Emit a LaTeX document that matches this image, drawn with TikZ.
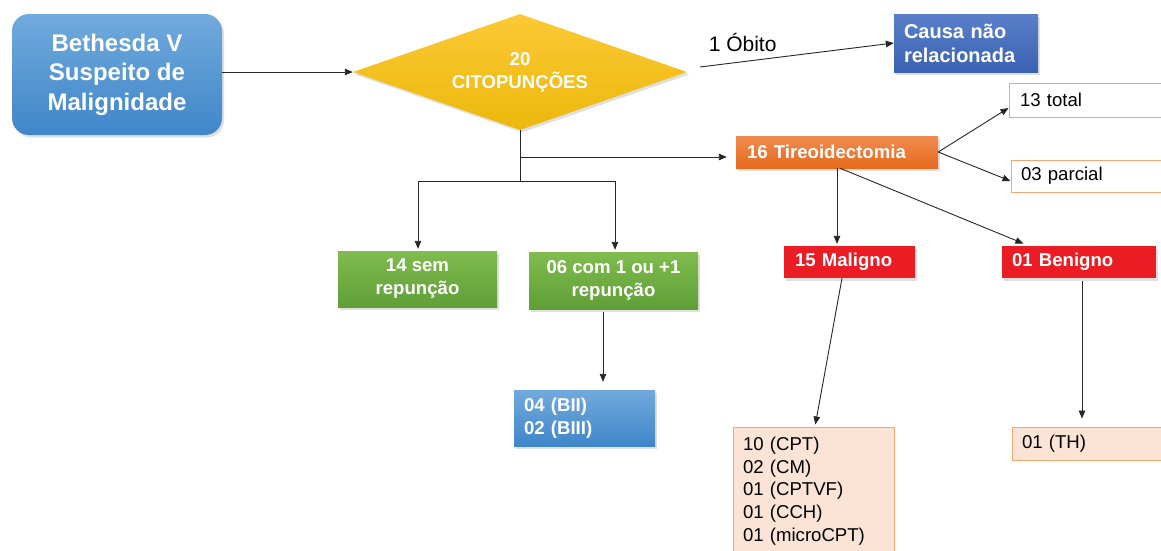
\documentclass[tikz,border=0pt]{standalone}
\usepackage{fontspec}
\setmainfont{Liberation Sans}
\usetikzlibrary{shapes.geometric,arrows.meta,shadows}

\definecolor{bluetop}{HTML}{71AADD}
\definecolor{bluebot}{HTML}{3F86C9}
\definecolor{navytop}{HTML}{5A80CB}
\definecolor{navybot}{HTML}{3A62B0}
\definecolor{goldtop}{HTML}{FBC935}
\definecolor{goldbot}{HTML}{ECB80C}
\definecolor{orangetop}{HTML}{F18C4F}
\definecolor{orangebot}{HTML}{E56A1D}
\definecolor{greentop}{HTML}{80BC4E}
\definecolor{greenbot}{HTML}{5F9F37}
\definecolor{alertred}{HTML}{EC1C24}
\definecolor{peach}{HTML}{FBE4D5}
\definecolor{peachline}{HTML}{F4A66E}

\tikzset{
  softshadow/.style={drop shadow={shadow xshift=2pt, shadow yshift=-2.5pt, opacity=0.25}},
  boldtxt/.style={font=\bfseries\fontsize{18.6}{23}\selectfont, text=white},
  plaintxt/.style={font=\fontsize{18.6}{22.8}\selectfont, text=black},
  flowbox/.style={rectangle, inner ysep=0pt, align=left},
  arr/.style={-{Triangle[length=8pt,width=6.5pt]}, line width=0.9pt, draw=black!85},
  ln/.style={line width=0.9pt, draw=black!85},
}

\begin{document}
\begin{tikzpicture}[x=1pt, y=-1pt]
\clip (0,0) rectangle (1161,550);
\fill[white] (0,0) rectangle (1161,550);

% start box and decision
\node[rectangle, rounded corners=17pt, minimum width=210pt, minimum height=121pt,
      inner sep=0pt, top color=bluetop, bottom color=bluebot, softshadow,
      align=center, text=white, font=\bfseries\fontsize{24}{29.5}\selectfont]
  (beth) at (117,74.5) {Bethesda V\\Suspeito de\\Malignidade};

\node[diamond, aspect=2.88, minimum width=334pt, minimum height=116pt, inner sep=0pt,
      top color=goldtop, bottom color=goldbot, softshadow, boldtxt, align=center]
  (cito) at (520,72) {20\\CITOPUNÇÕES};

\node[flowbox, inner xsep=10pt, text width=124pt, minimum height=58pt,
      top color=navytop, bottom color=navybot, softshadow,
      text=white, font=\bfseries\fontsize{20}{24}\selectfont]
  (causa) at (966,43) {Causa não\\relacionada};

% surgery branch
\node[flowbox, inner xsep=11pt, text width=180pt, minimum height=32pt,
      top color=orangetop, bottom color=orangebot, softshadow, boldtxt]
  (tireo) at (837,152) {16 Tireoidectomia};

\node[flowbox, inner xsep=11pt, text width=144pt, minimum height=34pt,
      draw=peachline, line width=1pt, fill=white, plaintxt]
  (total) at (1092,100) {13 total};

\node[flowbox, inner xsep=10pt, text width=144pt, minimum height=32pt,
      draw=peachline, line width=1pt, fill=white, plaintxt]
  (parcial) at (1093,176) {03 parcial};

\node[flowbox, inner xsep=11pt, text width=109pt, minimum height=32pt,
      fill=alertred, softshadow, boldtxt]
  (maligno) at (849.5,262) {15 Maligno};

\node[flowbox, inner xsep=10pt, text width=134pt, minimum height=32pt,
      fill=alertred, softshadow, boldtxt]
  (benigno) at (1079,262) {01 Benigno};

\node[flowbox, inner xsep=10pt, text width=141pt, minimum height=128pt,
      draw=peachline, line width=1pt, fill=peach, plaintxt]
  (lista) at (813.5,491) {10 (CPT)\\02 (CM)\\01 (CPTVF)\\01 (CCH)\\01 (microCPT)};

\node[flowbox, inner xsep=10pt, text width=143pt, minimum height=33pt,
      draw=peachline, line width=1pt, fill=peach, plaintxt]
  (th) at (1093.5,443.5) {01 (TH)};

% puncture branch
\node[rectangle, inner sep=0pt, minimum width=159pt, minimum height=56pt,
      top color=greentop, bottom color=greenbot, softshadow, boldtxt, align=center]
  (sem) at (417.5,279) {14 sem\\repunção};

\node[rectangle, inner sep=0pt, minimum width=169pt, minimum height=57pt,
      top color=greentop, bottom color=greenbot, softshadow, boldtxt, align=center]
  (com) at (613.5,280.5) {06 com 1 ou +1\\repunção};

\node[flowbox, inner xsep=10pt, text width=121pt, minimum height=56pt,
      top color=bluetop, bottom color=bluebot, softshadow, boldtxt,
      font=\bfseries\fontsize{18.6}{22.5}\selectfont]
  (bii) at (584.5,418) {04 (BII)\\02 (BIII)};

% connectors
\draw[arr] (beth.east |- cito) -- (cito.west);

\coordinate (obstart) at (700,67);
\draw[arr] (obstart) -- (causa.west)
  node[pos=0.22, above=9.5pt, inner sep=0pt, text=black,
       font=\fontsize{21}{25}\selectfont] (oblabel) {1 Óbito};

\coordinate (fork) at (520,181);
\coordinate (forkL) at (418,181);
\coordinate (forkR) at (615,181);
\coordinate (tbranch) at (520,157);
\draw[ln] (cito.south) -- (fork);
\draw[ln] (forkL) -- (forkR);
\draw[arr, shorten >=2pt] (forkL) -- (forkL |- sem.north);
\draw[arr, shorten >=2pt] (forkR) -- (forkR |- com.north);
\draw[arr, shorten >=9pt] (tbranch) -- (tbranch -| tireo.west);

\draw[arr] (tireo.east) -- ([yshift=-8pt]total.west);
\draw[arr] (tireo.east) -- ([yshift=-5pt]parcial.west);
\draw[arr, shorten >=2pt] (tireo.south) -- (tireo.south |- maligno.north);
\draw[arr, shorten >=6pt] ([xshift=3pt]tireo.south) -- ([xshift=-50pt]benigno.north);

\draw[arr, shorten >=2pt] ([xshift=-7.5pt]maligno.south) -- ([xshift=1.5pt]lista.north);
\coordinate (bdrop) at ([xshift=3pt]benigno.south);
\draw[arr, shorten <=3pt, shorten >=8pt] (bdrop) -- (bdrop |- th.north);
\coordinate (cdrop) at ([xshift=-10.5pt]com.south);
\draw[arr, shorten <=3pt, shorten >=8pt] (cdrop) -- (cdrop |- bii.north);
\end{tikzpicture}
\end{document}
